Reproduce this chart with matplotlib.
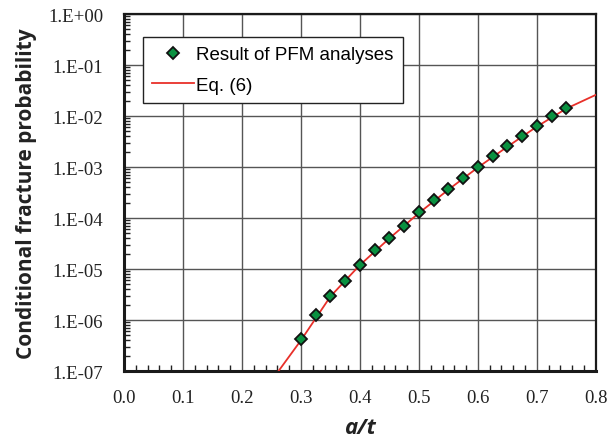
import matplotlib
matplotlib.use("Agg")
import matplotlib.pyplot as plt
from matplotlib.ticker import FixedLocator, LogLocator, NullFormatter, MultipleLocator

# PFM analysis results
pfm_x = [0.300, 0.325, 0.350, 0.375, 0.400, 0.425, 0.450, 0.475, 0.500, 0.525,
         0.550, 0.575, 0.600, 0.625, 0.650, 0.675, 0.700, 0.725, 0.750]
pfm_y = [4.2e-7, 1.26e-6, 2.9e-6, 5.9e-6, 1.21e-5, 2.36e-5, 4.0e-5, 7.1e-5, 1.29e-4, 2.24e-4,
         3.7e-4, 6.0e-4, 1.01e-3, 1.66e-3, 2.6e-3, 4.1e-3, 6.4e-3, 9.8e-3, 1.44e-2]

# Eq. (6) curve
eq_x = [0.262, 0.30, 0.35, 0.40, 0.45, 0.50, 0.55, 0.60, 0.65, 0.70, 0.75, 0.80]
eq_y = [1.0e-7, 4.0e-7, 2.9e-6, 1.2e-5, 4.0e-5, 1.25e-4, 3.6e-4, 9.8e-4, 2.5e-3, 6.2e-3, 1.4e-2, 2.6e-2]

x_ticks = [0.0, 0.1, 0.2, 0.3, 0.4, 0.5, 0.6, 0.7, 0.8]
y_ticks = [1e-7, 1e-6, 1e-5, 1e-4, 1e-3, 1e-2, 1e-1, 1e0]
y_labels = ["1.E-07", "1.E-06", "1.E-05", "1.E-04", "1.E-03", "1.E-02", "1.E-01", "1.E+00"]


def main():
    fig = plt.figure(figsize=(6.08, 4.39), dpi=100)
    ax = fig.add_axes([0.204, 0.1526, 0.776, 0.8132])

    ax.plot(eq_x, eq_y, color="#e8302a", lw=1.3, label="Eq. (6)", zorder=3)
    ax.plot(pfm_x, pfm_y, ls="none", marker="D", ms=6.5, mfc="#0a9140", mec="#111111",
            mew=1.3, label="Result of PFM analyses", zorder=4)

    ax.set_yscale("log")
    ax.set_xlim(0.0, 0.8)
    ax.set_ylim(1e-7, 1e0)

    ax.xaxis.set_major_locator(FixedLocator(x_ticks))
    ax.xaxis.set_minor_locator(MultipleLocator(0.02))
    ax.set_xticklabels([f"{v:.1f}" for v in x_ticks])
    ax.yaxis.set_major_locator(FixedLocator(y_ticks))
    ax.set_yticklabels(y_labels)
    ax.yaxis.set_minor_locator(LogLocator(base=10, subs=range(2, 10), numticks=20))
    ax.yaxis.set_minor_formatter(NullFormatter())

    ax.grid(True, which="major", color="#555555", lw=1.0)
    ax.tick_params(which="both", direction="in", top=False, right=False, colors="#222222")
    ax.tick_params(axis="y", which="major", length=0, pad=15)
    ax.tick_params(axis="x", which="major", length=0, pad=13)
    ax.tick_params(which="minor", length=4, width=1.0)

    for lab in ax.get_xticklabels() + ax.get_yticklabels():
        lab.set_fontfamily("Liberation Serif")
        lab.set_fontsize(13.5)
        lab.set_color("#222222")

    for side, sp in ax.spines.items():
        sp.set_color("#1a1a1a")
        sp.set_linewidth(2.2 if side in ("left", "bottom") else 1.6)

    ax.set_ylabel("Conditional fracture probability", fontsize=15, fontweight="bold",
                  family="Open Sans", color="#222222", labelpad=8)
    ax.set_xlabel("a/t", fontsize=16, fontweight="bold", fontstyle="italic",
                  family="Open Sans", color="#222222", labelpad=8)

    handles, labels = ax.get_legend_handles_labels()
    leg = ax.legend(handles[::-1], labels[::-1], loc="upper left",
                    bbox_to_anchor=(0.04, 0.936), borderaxespad=0, frameon=True, fancybox=False,
                    prop={"family": "Liberation Sans", "size": 13.5}, numpoints=1,
                    handlelength=2.2, borderpad=0.5, labelspacing=0.7, handletextpad=0.15)
    leg.get_frame().set_edgecolor("#222222")
    leg.get_frame().set_linewidth(1.0)
    leg.get_frame().set_alpha(1.0)

    fig.savefig("out.png", dpi=100)
    plt.close(fig)


if __name__ == "__main__":
    main()
